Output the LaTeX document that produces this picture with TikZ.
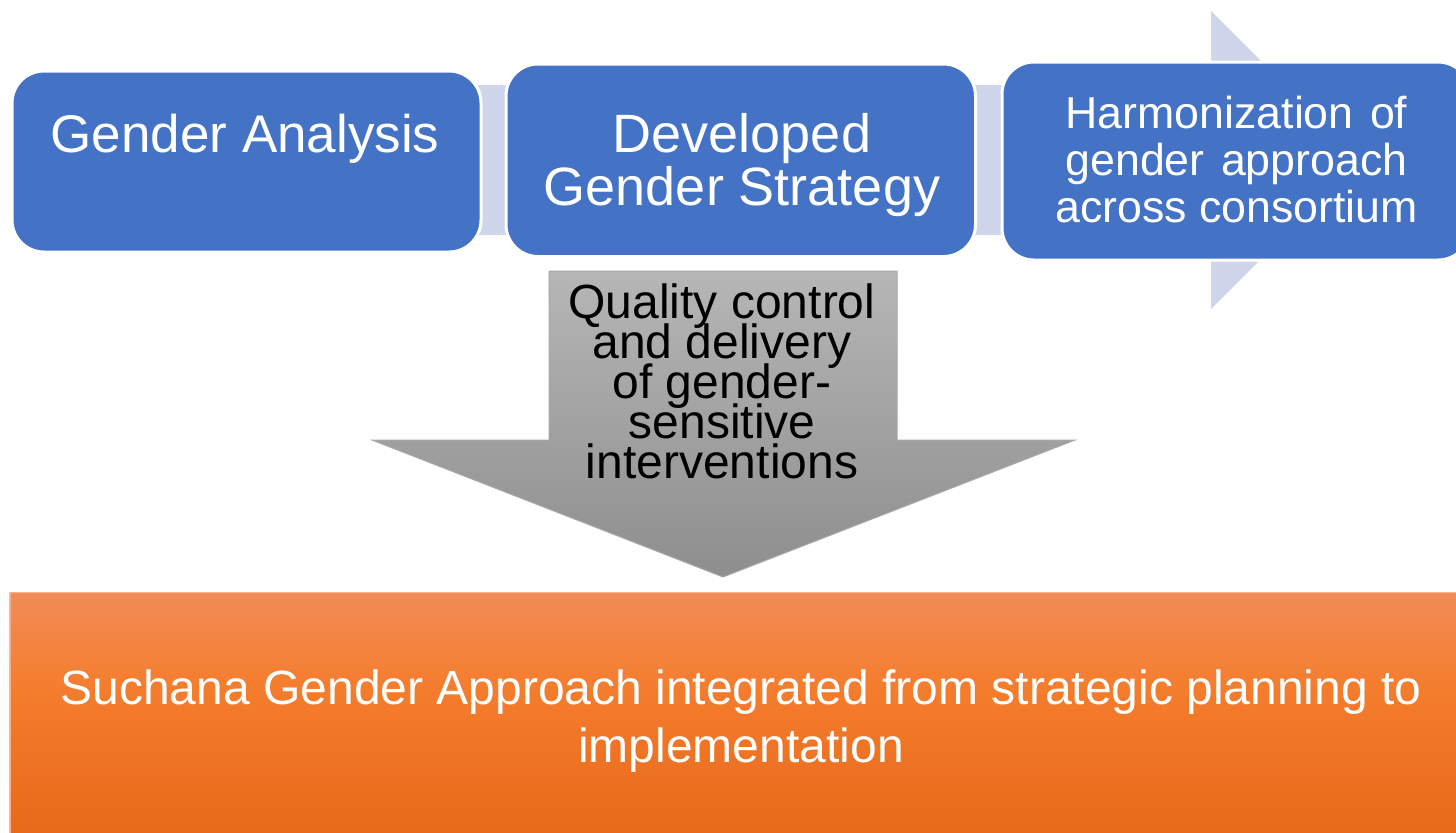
\documentclass[tikz,border=0pt]{standalone}
\usepackage{fontspec}
\setmainfont{Liberation Sans}
\definecolor{boxblue}{HTML}{4472C4}
\definecolor{lav}{HTML}{CFD5EA}
\definecolor{graytop}{HTML}{B6B6B6}
\definecolor{graybot}{HTML}{8E8E8E}
\definecolor{grayline}{HTML}{A8A8A8}
\definecolor{orgtop}{HTML}{F18C57}
\definecolor{orgmid}{HTML}{F47D2D}
\definecolor{orgbot}{HTML}{E8691A}
\definecolor{orgline}{HTML}{F6B38C}
\pgfdeclareverticalshading{orangesh}{100bp}{color(0bp)=(orgbot); color(25bp)=(orgbot); color(55bp)=(orgmid); color(75bp)=(orgtop); color(100bp)=(orgtop)}
\newcommand\tightlines{\lineskiplimit=-50pt\relax}
\tikzset{
  bluebox/.style={draw=white, line width=1.5pt, fill=boxblue, rounded corners=16pt, inner sep=0pt},
  whitetxt/.style={text=white, inner sep=0pt, align=center},
  blacktxt/.style={text=black, inner sep=0pt, align=center},
}
\begin{document}
\begin{tikzpicture}[x=0.5pt, y=-0.5pt]
\useasboundingbox (0,0) rectangle (1456,832);
\clip (0,0) rectangle (1456,832);
% background process arrow (lavender)
\fill[lav] (30,85) -- (1211,85) -- (1211,11) -- (1360,160) -- (1211,309) -- (1211,235) -- (30,235) -- cycle;
% blue boxes
\node[bluebox, minimum width=234.5pt, minimum height=90.5pt] (box1) at (246.5,161.5) {};
\node[bluebox, minimum width=234.75pt, minimum height=96.25pt] (box2) at (740.75,160.25) {};
\node[bluebox, minimum width=234pt, minimum height=99pt] (box3) at (1236,161) {};
\node[whitetxt, anchor=base, font={\fontsize{26.5pt}{26.5pt}\selectfont}] (t1) at (245,152) {Gender Analysis};
\node[whitetxt, anchor=base, font={\fontsize{27pt}{26.5pt}\selectfont\tightlines}] (t2) at (742,205) {Developed\\Gender Strategy};
\node[whitetxt, anchor=base, font={\fontsize{22.35pt}{23.5pt}\selectfont\tightlines}] (t3) at (1236.5,222)
  {\makebox[171pt][s]{Harmonization of}\\\makebox[171pt][s]{gender approach}\\across consortium};
% gray down arrow
\shade[top color=graytop, bottom color=graybot, draw=grayline, line width=0.5pt]
  (549,271) -- (897,271) -- (897,440) -- (1075,440) -- (723,577) -- (372,440) -- (549,440) -- cycle;
\node[blacktxt, anchor=base, font={\fontsize{24pt}{20pt}\selectfont\tightlines}] (t4) at (722,478)
  {Quality control\\and delivery\\of gender-\\sensitive\\interventions};
% orange result box
\shade[shading=orangesh] (10,592) rectangle (1480,832);
\draw[orgline, line width=0.6pt] (10,840) -- (10,592.5) -- (1480,592.5);
\node[whitetxt, anchor=base, font={\fontsize{24pt}{29pt}\selectfont\tightlines}] (t5) at (741,762)
  {Suchana Gender Approach integrated from strategic planning to\\implementation};
\end{tikzpicture}
\end{document}
